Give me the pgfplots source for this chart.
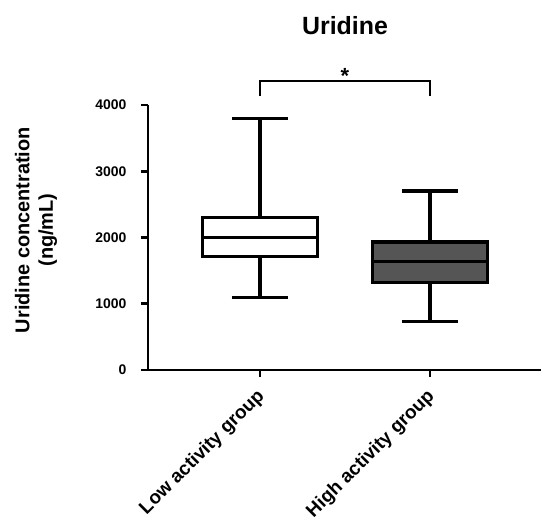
\documentclass[border=0pt]{standalone}
\usepackage{pgfplots}
\pgfplotsset{compat=1.18}
\usepackage{fontspec}
\setmainfont{Liberation Sans}
\definecolor{darkbox}{HTML}{555555}
\pgfplotsset{bx/.style={black, solid, line width=3.3bp, mark=none}}
\begin{document}
\begin{tikzpicture}
\begin{axis}[
  name=ax,
  scale only axis,
  width=393bp, height=265bp,
  xmin=-0.659, xmax=1.653,
  ymin=0, ymax=4000,
  axis lines*=left,
  axis line style={line width=2.7bp, -},
  tick align=outside,
  major tick length=7bp,
  tick style={line width=2.7bp, black},
  xtick={0,1},
  xticklabels={Low activity group, High activity group},
  ytick={0,1000,2000,3000,4000},
  /pgf/number format/1000 sep={},
  /pgf/number format/assume math mode=true,
  yticklabel style={xshift=-11bp, font=\fontsize{14}{14}\selectfont\bfseries},
  xticklabel style={xshift=4bp, yshift=-14bp, rotate=45, anchor=east,
    font=\fontsize{19}{19}\selectfont\bfseries},
  ylabel={Uridine concentration\\(ng/mL)},
  ylabel style={at={(axis description cs:-0.285,0.528)}, anchor=center, align=center,
    font=\fontsize{20}{23.5}\selectfont\bfseries},
  clip=false,
]
% Low activity group: whiskers, box, median
\addplot[bx] coordinates {(0,2300) (0,3800)};
\addplot[bx] coordinates {(-0.165,3800) (0.165,3800)};
\addplot[bx] coordinates {(0,1715) (0,1090)};
\addplot[bx] coordinates {(-0.165,1090) (0.165,1090)};
\addplot[bx, fill=white] coordinates {(-0.34,1715) (0.34,1715) (0.34,2300) (-0.34,2300)} -- cycle;
\addplot[bx] coordinates {(-0.34,2000) (0.34,2000)};
% High activity group
\addplot[bx] coordinates {(1,1930) (1,2700)};
\addplot[bx] coordinates {(0.835,2700) (1.165,2700)};
\addplot[bx] coordinates {(1,1326) (1,730)};
\addplot[bx] coordinates {(0.835,730) (1.165,730)};
\addplot[bx, fill=darkbox] coordinates {(0.66,1326) (1.34,1326) (1.34,1930) (0.66,1930)} -- cycle;
\addplot[bx] coordinates {(0.66,1635) (1.34,1635)};
% significance bracket
\addplot[bx, line width=2bp] coordinates {(0,4143) (0,4355) (1,4355) (1,4143)};
\node[font=\fontsize{22}{22}\selectfont\bfseries] at (axis cs:0.5,4440) {*};
\node[anchor=base, font=\fontsize{25}{25}\selectfont\bfseries] at (axis cs:0.5,5057) {Uridine};
\end{axis}
\pgfresetboundingbox
\useasboundingbox ([shift={(-148bp,-149bp)}]ax.south west) rectangle ([shift={(393bp,370bp)}]ax.south west);
\end{tikzpicture}
\end{document}
